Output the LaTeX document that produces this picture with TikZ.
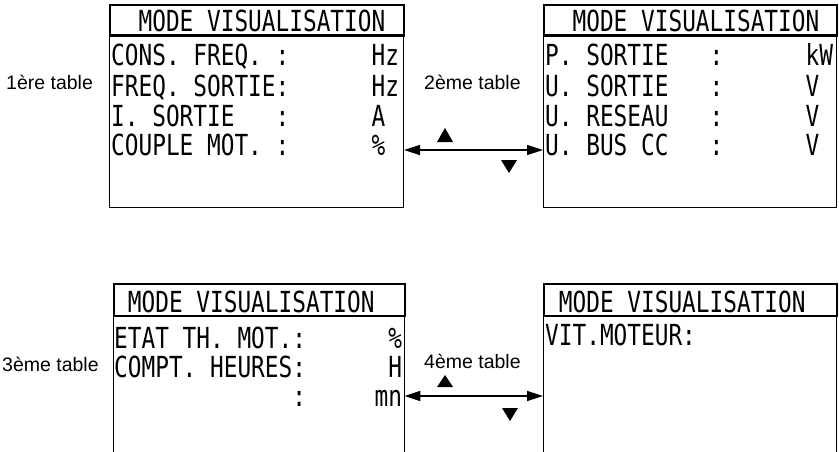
\documentclass[tikz,border=0pt]{standalone}
\usepackage{fontspec}
\setmainfont{Liberation Sans}
\newfontfamily\lcdfont{DejaVu Sans Mono}[FakeStretch=0.785]
\usetikzlibrary{arrows.meta}
\frenchspacing
\tikzset{
  panelbox/.style={draw, line width=1pt, inner sep=0pt, anchor=north west},
  ghostbox/.style={inner sep=0pt, anchor=north west},
  headbox/.style={draw, line width=2.4pt, inner sep=0pt, anchor=north west},
  lcd/.style={font=\lcdfont\fontsize{29}{29}\selectfont, inner sep=0pt, anchor=base west},
  tablabel/.style={font=\fontsize{19.5}{19.5}\selectfont, inner sep=0pt, anchor=base west},
  dblarrow/.style={line width=1.5pt, {Triangle[length=16pt,width=10pt]}-{Triangle[length=16pt,width=10pt]}},
  tri/.style={fill=black}
}
\begin{document}
\begin{tikzpicture}[x=1pt,y=-1pt]
\useasboundingbox (0,0) rectangle (839,452);

% ---------- top left: 1ere table
\node[panelbox, minimum width=294pt, minimum height=203pt] (tl) at (109,4) {};
\node[headbox, minimum width=294pt, minimum height=30.5pt] (tlh) at (109,4) {};
\node[lcd] (tl0) at (111,32) {~~MODE~VISUALISATION};
\node[lcd] (tl1) at (111,66) {CONS.~FREQ.~:~~~~~~Hz};
\node[lcd] (tl2) at (111,96) {FREQ.~SORTIE:~~~~~~Hz};
\node[lcd] (tl3) at (111,126) {I.~SORTIE~~~:~~~~~~A};
\node[lcd] (tl4) at (111,156) {COUPLE~MOT.~:~~~~~~\%};
\node[tablabel] (lab1) at (6,89) {1ère table};

% ---------- top right: 2eme table
\node[panelbox, minimum width=293pt, minimum height=203pt] (tr) at (543,4) {};
\node[headbox, minimum width=293pt, minimum height=30.5pt] (trh) at (543,4) {};
\node[lcd] (tr0) at (545,32) {~~MODE~VISUALISATION};
\node[lcd] (tr1) at (545,66) {P.~SORTIE~~~:~~~~~~kW};
\node[lcd] (tr2) at (545,96) {U.~SORTIE~~~:~~~~~~V};
\node[lcd] (tr3) at (545,126) {U.~RESEAU~~~:~~~~~~V};
\node[lcd] (tr4) at (545,156) {U.~BUS~CC~~~:~~~~~~V};
\node[tablabel] (lab2) at (424,89) {2ème table};

\coordinate (ya) at (0,150);
\draw[dblarrow] (tl.east |- ya) -- (tr.west |- ya);
\fill[tri] (437,142) -- (453,142) -- (445,128) -- cycle;
\fill[tri] (501,160) -- (517,160) -- (509,173) -- cycle;

% ---------- bottom left: 3eme table
\node[ghostbox, minimum width=291pt, minimum height=169pt] (bl) at (113,283) {};
\draw[line width=1pt] (bl.south west) -- (bl.north west) -- (bl.north east) -- (bl.south east);
\node[headbox, minimum width=291pt, minimum height=32pt] (blh) at (113,283) {};
\node[lcd] (bl0) at (114,312) {~MODE~VISUALISATION};
\node[lcd] (bl1) at (114,348) {ETAT~TH.~MOT.:~~~~~~\%};
\node[lcd] (bl2) at (114,377) {COMPT.~HEURES:~~~~~~H};
\node[lcd] (bl3) at (114,406) {~~~~~~~~~~~~~:~~~~~mn};
\node[tablabel] (lab3) at (2,371) {3ème table};

% ---------- bottom right: 4eme table
\node[ghostbox, minimum width=293pt, minimum height=169pt] (br) at (543,283) {};
\draw[line width=1pt] (br.south west) -- (br.north west) -- (br.north east) -- (br.south east);
\node[headbox, minimum width=293pt, minimum height=32pt] (brh) at (543,283) {};
\node[lcd] (br0) at (545,312) {~MODE~VISUALISATION};
\node[lcd] (br1) at (545,345) {VIT.MOTEUR:};
\node[tablabel] (lab4) at (424,368) {4ème table};

\coordinate (yb) at (0,396);
\draw[dblarrow] (bl.east |- yb) -- (br.west |- yb);
\fill[tri] (437,387) -- (453,387) -- (445,375) -- cycle;
\fill[tri] (502,408) -- (518,408) -- (510,421) -- cycle;
\end{tikzpicture}
\end{document}
